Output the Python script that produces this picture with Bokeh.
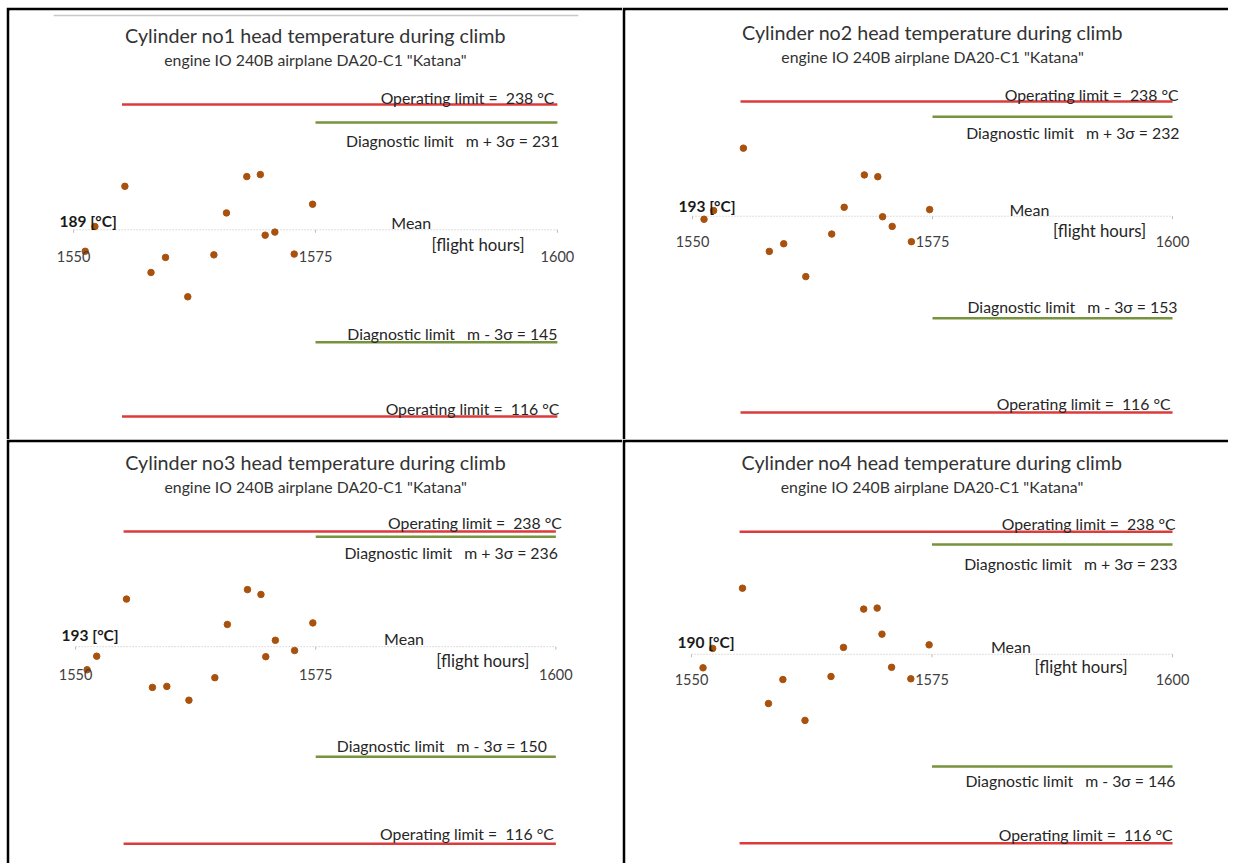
from bokeh.plotting import figure
from bokeh.layouts import gridplot
from bokeh.models import Range1d
from bokeh.core.properties import value
from bokeh.embed import file_html
from bokeh.resources import INLINE

# ---------------- data ----------------
hours = [1551.2, 1552.2, 1555.3, 1558.0, 1559.5, 1561.8, 1564.5,
         1565.8, 1567.9, 1569.3, 1569.8, 1570.8, 1572.8, 1574.7]
cyl1 = [180.6, 190.3, 206.0, 172.3, 178.2, 162.8, 179.2,
        195.6, 209.8, 210.6, 186.9, 188.1, 179.5, 199.0]
cyl2 = [191.8, 195.2, 219.7, 179.2, 182.2, 169.3, 186.0,
        196.5, 209.2, 208.5, 192.8, 189.0, 183.0, 195.6]
cyl3 = [184.0, 189.3, 211.6, 177.1, 177.5, 172.1, 180.9,
        201.7, 215.3, 213.4, 189.1, 195.5, 191.5, 202.3]
cyl4 = [184.7, 192.3, 215.9, 170.7, 180.1, 164.1, 181.3,
        192.7, 207.7, 208.1, 197.9, 184.9, 180.4, 193.7]
cylinder_names = ["no1", "no2", "no3", "no4"]
means = [189, 193, 193, 190]
diag_hi = [231, 232, 236, 233]
diag_lo = [145, 153, 150, 146]
op_hi = 238
op_lo = 116
x_ticks = [1550, 1575, 1600]
x_tick_labels = ["1550", "1575", "1600"]
op_line_start = 1555
diag_line_start = 1575
subtitle = 'engine IO 240B airplane DA20-C1 "Katana"'

# ---------------- style ----------------
FONT = value("Lato")
RED = "#DD3B3B"
GREEN = "#77933C"
BROWN = "#A9520E"
NB = "\u00a0"

col_w = [616, 606]
row_h = [432, 424]
BORDER = 3
x_ranges = [(1543.375, 1606.73), (1543.02, 1605.83), (1543.12, 1606.94), (1543.14, 1605.82)]
y_ranges = [(106.99, 274.76), (105.4, 273.7), (108.31, 272.77), (108.02, 272.99)]
# label offsets (px, + = above line) and right-edge x offsets (px)
op_hi_dy = [7, 7, 9, 8]
dg_hi_dy = [-18, -16, -16, -19]
dg_lo_dy = [9, 12, 11, -14]
op_lo_dy = [8, 9, 10, 9]
op_hi_dx = [-3, 6, 6, 3]
dg_hi_dx = [2, 7, 2, 5]
dg_lo_dx = [0, 5, -9, 3]
op_lo_dx = [2, -2, -2, 0]
tick_dy = [27, 25, 28, 25]
mean_lbl_dy = [7, 7, 8, 8]
fh_dy = [15, 14, 14, 12]
unit_dy = [9, 10, 12, 12]
mean_lbl_x = [1584.9, 1585.1, 1584.2, 1583.2]
fh_x = [1591.8, 1592.4, 1592.4, 1590.5]

series = [cyl1, cyl2, cyl3, cyl4]


def make_panel(i):
    w = col_w[i % 2]
    h = row_h[i // 2]
    xr, yr = x_ranges[i], y_ranges[i]
    p = figure(width=w, height=h, x_range=Range1d(*xr), y_range=Range1d(*yr),
               x_axis_type=None, y_axis_type=None, toolbar_location=None,
               output_backend="svg", min_border_left=BORDER, min_border_top=BORDER,
               min_border_right=0, min_border_bottom=0, border_fill_color="black",
               background_fill_color="white", outline_line_color=None)
    frame_h = h - BORDER
    frame_w = w - BORDER
    pxdeg = frame_h / (yr[1] - yr[0])
    pxh = frame_w / (xr[1] - xr[0])
    m = means[i]

    if i == 0:
        gy = op_hi + 89 / pxdeg
        p.segment(x0=[x_ticks[0] - 20 / pxh], y0=[gy], x1=[x_ticks[-1] + 21 / pxh], y1=[gy],
                  line_color="#c8c8c8", line_width=1.5)

    # mean (axis) line and ticks
    p.segment(x0=[x_ticks[0]], y0=[m], x1=[x_ticks[-1]], y1=[m],
              line_color="#bdbdbd", line_width=1, line_dash="1 2")
    p.segment(x0=x_ticks, y0=[m] * 3, x1=x_ticks, y1=[m - 3 / pxdeg] * 3,
              line_color="#bdbdbd", line_width=1)

    # limit lines
    p.segment(x0=[op_line_start] * 2, y0=[op_hi, op_lo], x1=[x_ticks[-1]] * 2,
              y1=[op_hi, op_lo], line_color=RED, line_width=2.5)
    p.segment(x0=[diag_line_start] * 2, y0=[diag_hi[i], diag_lo[i]], x1=[x_ticks[-1]] * 2,
              y1=[diag_hi[i], diag_lo[i]], line_color=GREEN, line_width=2.5)

    # points
    p.scatter(hours, series[i], size=6.5, fill_color=BROWN, line_color=BROWN)

    # titles
    p.text(x=[x_ticks[1]], y=[op_hi], text=[f"Cylinder {cylinder_names[i]} head temperature during climb"],
           y_offset=-69, text_align="center", text_baseline="middle",
           text_font=FONT, text_font_size="19.7px", text_color="#333333")
    p.text(x=[x_ticks[1]], y=[op_hi], text=[subtitle],
           y_offset=-45, text_align="center", text_baseline="middle",
           text_font=FONT, text_font_size="15.8px", text_color="#333333")

    # limit labels
    lab = dict(text_align="right", text_baseline="middle", text_font=FONT,
               text_font_size="15.8px", text_color="#262626")
    p.text(x=[x_ticks[-1]], y=[op_hi], text=[f"Operating limit ={NB} {op_hi} °C"],
           x_offset=op_hi_dx[i], y_offset=-op_hi_dy[i], **lab)
    p.text(x=[x_ticks[-1]], y=[diag_hi[i]], text=[f"Diagnostic limit{NB}{NB} m + 3σ = {diag_hi[i]}"],
           x_offset=dg_hi_dx[i], y_offset=-dg_hi_dy[i], **lab)
    p.text(x=[x_ticks[-1]], y=[diag_lo[i]], text=[f"Diagnostic limit{NB}{NB} m - 3σ = {diag_lo[i]}"],
           x_offset=dg_lo_dx[i], y_offset=-dg_lo_dy[i], **lab)
    p.text(x=[x_ticks[-1]], y=[op_lo], text=[f"Operating limit ={NB} {op_lo} °C"],
           x_offset=op_lo_dx[i], y_offset=-op_lo_dy[i], **lab)

    # axis texts
    p.text(x=x_ticks, y=[m] * 3, text=x_tick_labels, y_offset=tick_dy[i],
           text_align="center", text_baseline="middle", text_font=FONT,
           text_font_size="14.5px", text_color="#404040")
    p.text(x=[mean_lbl_x[i]], y=[m], text=["Mean"], y_offset=-mean_lbl_dy[i],
           text_align="center", text_baseline="middle", text_font=FONT,
           text_font_size="16px", text_color="#262626")
    p.text(x=[fh_x[i]], y=[m], text=["[flight hours]"], y_offset=fh_dy[i],
           text_align="center", text_baseline="middle", text_font=FONT,
           text_font_size="16.8px", text_color="#262626")
    p.text(x=[x_ticks[0]], y=[m], text=[f"{m} [°C]"], x_offset=-14, y_offset=-unit_dy[i],
           text_align="left", text_baseline="middle", text_font=FONT,
           text_font_size="15.5px", text_font_style="bold", text_color="#1a1a1a")
    return p


panels = [make_panel(i) for i in range(4)]
grid = gridplot([[panels[0], panels[1]], [panels[2], panels[3]]], toolbar_location=None)
grid.margin = (7, 0, 0, 6)

open("out.html", "w").write(file_html(grid, INLINE))
